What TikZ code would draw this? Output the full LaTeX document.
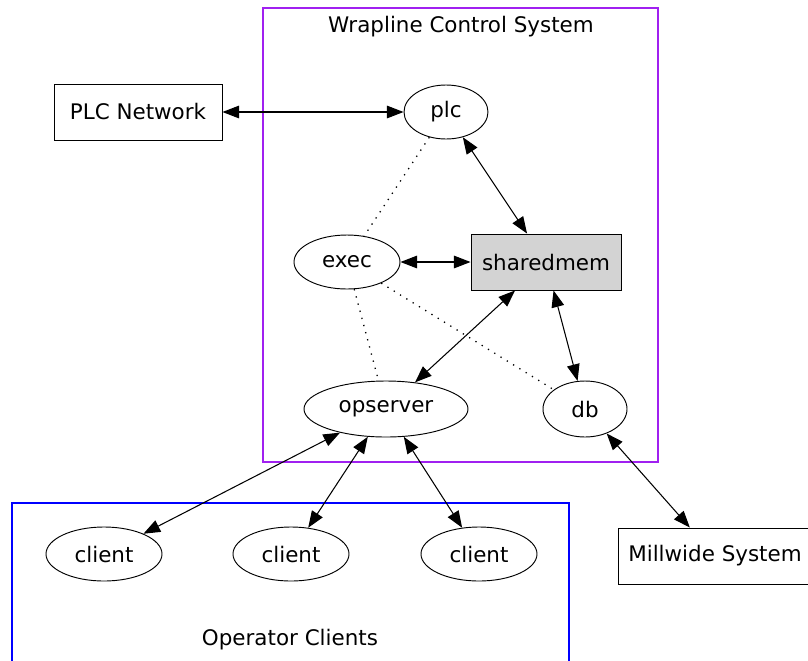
\documentclass[tikz,border=0pt]{standalone}
\usepackage{fontspec}
\setmainfont{DejaVu Sans}
\usepackage{tikz}
\usetikzlibrary{arrows.meta,shapes.geometric}

\definecolor{clpurple}{HTML}{A020F0}
\definecolor{memgray}{HTML}{D3D3D3}

\tikzset{
  proc/.style={draw,line width=0.8pt,ellipse,inner sep=0pt,minimum height=1.62cm},
  sysbox/.style={draw,line width=0.8pt,rectangle,inner sep=0pt,minimum height=1.68cm},
  link/.style={<->,>={Triangle[length=5mm,width=3.8mm]},line width=0.9pt},
  weak/.style={line width=1.1pt,dash pattern=on 1.1pt off 5.2pt}
}

\begin{document}
\begin{tikzpicture}[x=0.03cm,y=-0.03cm,font=\fontsize{18.3}{22}\selectfont]

  \useasboundingbox (0,0) rectangle (808,660); %全体

  \draw[clpurple,line width=1pt] (263,8) rectangle (658,462); %制御系の枠
  \node at (461,27) {Wrapline Control System};
  \draw[blue,line width=1pt] (12,503) rectangle (569,670); %クライアントの枠
  \node at (290,640) {Operator Clients};

  \node[sysbox,minimum width=5.04cm] (plcnet) at (138,112) {PLC Network}; %外部
  \node[proc,minimum width=2.52cm] (plc) at (446,112) {plc};
  \node[proc,minimum width=3.18cm] (exec) at (347,262) {exec};
  \node[sysbox,fill=memgray,minimum width=4.5cm] (shm) at (546,262) {sharedmem}; %共有メモリ
  \node[proc,minimum width=4.92cm,minimum height=1.68cm] (ops) at (386,409) {opserver};
  \node[proc,minimum width=2.52cm,minimum height=1.68cm] (db) at (585,409) {db};
  \node[sysbox,minimum width=5.82cm] (mill) at (715,556) {Millwide System}; %外部

  \foreach \n/\x in {1/104,2/291,3/479}
    \node[proc,minimum width=3.48cm] (cl\n) at (\x,554) {client}; %クライアント

  \draw[link] (plcnet) -- (plc);
  \draw[link] (plc) -- (shm);
  \draw[link] (exec) -- (shm);
  \draw[link] (shm) -- (ops);
  \draw[link] (shm) -- (db);
  \draw[link] (db) -- (mill);
  \foreach \n in {1,2,3} \draw[link] (ops) -- (cl\n);

  \draw[weak] (plc) -- (exec); %点線
  \draw[weak] (exec) -- (ops);
  \draw[weak] (exec) -- (db);

\end{tikzpicture}
\end{document}
